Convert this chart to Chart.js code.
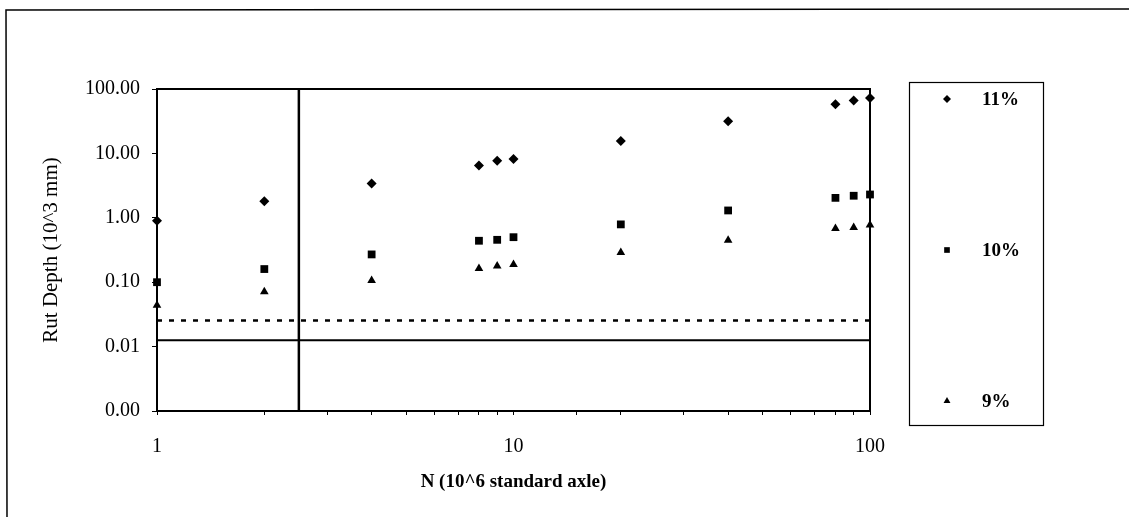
<!DOCTYPE html>
<html><head><meta charset="utf-8">
<script src="https://cdn.jsdelivr.net/npm/chart.js@4/dist/chart.umd.min.js"></script>
<style>html,body{margin:0;padding:0;background:#fff;}#wrap{width:1129px;height:517px;position:relative;}</style>
</head><body><div id="wrap"><canvas id="c" width="1129" height="517"></canvas></div>
<script>
// ---- data ----
const nValues = [1, 2, 4, 8, 9, 10, 20, 40, 80, 90, 100];
const rut11 = [0.9, 1.8, 3.4, 6.5, 7.7, 8.2, 15.6, 31.5, 58, 66.5, 72.5];
const rut10 = [0.10, 0.16, 0.27, 0.44, 0.455, 0.50, 0.79, 1.3, 2.04, 2.2, 2.3];
const rut9 = [0.044, 0.071, 0.106, 0.163, 0.178, 0.188, 0.29, 0.45, 0.68, 0.71, 0.77];
const seriesLabels = ['11%', '10%', '9%'];
const yTicks = [0.001, 0.01, 0.1, 1, 10, 100];
const xTickLabels = [1, 10, 100];
const xRange = [1, 100];
const yRange = [0.001, 100];
const dashedLimit = 0.0255;
const solidLimit = 0.0125;
const verticalN = 2.5;

const pts = ys => nValues.map((x, i) => ({x: x, y: ys[i]}));
const serif = 'Liberation Serif, Times New Roman, serif';
const styles = ['rectRot', 'rect', 'triangle'];
const radii = [5, 5.5, 5];

function drawMarker(ctx, style, x, y, r) {
  ctx.beginPath();
  if (style === 'rectRot') {
    ctx.moveTo(x - r, y); ctx.lineTo(x, y - r); ctx.lineTo(x + r, y); ctx.lineTo(x, y + r);
  } else if (style === 'rect') {
    const s = r * Math.SQRT1_2; ctx.rect(x - s, y - s, 2 * s, 2 * s);
  } else {
    const h = r * 0.866;
    ctx.moveTo(x, y - r); ctx.lineTo(x + h, y + r / 2); ctx.lineTo(x - h, y + r / 2);
  }
  ctx.closePath(); ctx.fill();
}

const framePlugin = {
  id: 'frame',
  beforeDatasetsDraw(chart) {
    const {ctx, chartArea: a} = chart;
    ctx.save();
    ctx.strokeStyle = '#000';
    ctx.lineWidth = 2;
    ctx.beginPath();
    ctx.moveTo(a.left, a.top); ctx.lineTo(a.right, a.top); ctx.lineTo(a.right, a.bottom);
    ctx.stroke();
    // outer page frame
    ctx.lineWidth = 1.5;
    ctx.beginPath();
    ctx.moveTo(7, 517); ctx.lineTo(6, 10); ctx.lineTo(1129, 9);
    ctx.stroke();
    ctx.restore();
  },
  afterDraw(chart) {
    const {ctx} = chart;
    ctx.save();
    ctx.strokeStyle = '#000';
    ctx.lineWidth = 1.2;
    ctx.strokeRect(909.5, 82.5, 134, 343);
    ctx.fillStyle = '#000';
    ctx.font = 'bold 19px ' + serif;
    ctx.textBaseline = 'middle';
    ctx.textAlign = 'left';
    const ys = [99, 250, 401];
    seriesLabels.forEach((lab, i) => {
      drawMarker(ctx, styles[i], 947, ys[i], 4);
      ctx.fillText(lab, 982, ys[i] + 1);
    });
    ctx.restore();
  }
};

const scatterSets = [rut11, rut10, rut9].map((arr, i) => ({
  label: seriesLabels[i],
  data: pts(arr),
  pointStyle: styles[i],
  pointRadius: radii[i],
  pointBackgroundColor: '#000',
  pointBorderColor: '#000',
  pointBorderWidth: 0,
  showLine: false,
  clip: false
}));

const lineSets = [
  {data: [{x: xRange[0], y: dashedLimit}, {x: xRange[1], y: dashedLimit}], borderDash: [5, 7], borderWidth: 2.5},
  {data: [{x: xRange[0], y: solidLimit}, {x: xRange[1], y: solidLimit}], borderWidth: 2},
  {data: [{x: verticalN, y: yRange[0]}, {x: verticalN, y: yRange[1]}], borderWidth: 2.5}
].map(d => Object.assign({label: '', showLine: true, pointRadius: 0, borderColor: '#000', fill: false, tension: 0}, d));

new Chart(document.getElementById('c'), {
  type: 'scatter',
  data: {datasets: scatterSets.concat(lineSets)},
  options: {
    responsive: false,
    animation: false,
    devicePixelRatio: 1,
    layout: {padding: {left: 0, right: 259, top: 89, bottom: 0}},
    plugins: {legend: {display: false}, tooltip: {enabled: false}},
    scales: {
      x: {
        type: 'logarithmic', min: xRange[0], max: xRange[1],
        afterFit(s) { s.height = 106; },
        ticks: {
          autoSkip: false, maxRotation: 0, padding: 20, color: '#000',
          font: {family: serif, size: 20},
          callback: v => xTickLabels.includes(Number(v)) ? String(v) : ''
        },
        grid: {drawOnChartArea: false, drawTicks: true, tickLength: 4, color: '#000', lineWidth: 1},
        border: {display: true, color: '#000', width: 2},
        title: {display: true, text: 'N (10^6 standard axle)', color: '#000',
          font: {family: serif, size: 19, weight: 'bold'}, padding: {top: 0, bottom: 24}}
      },
      y: {
        type: 'logarithmic', min: yRange[0], max: yRange[1],
        afterFit(s) { s.width = 157; },
        afterBuildTicks(s) { s.ticks = yTicks.map(v => ({value: v})); },
        ticks: {
          padding: 12, color: '#000', font: {family: serif, size: 20},
          callback: v => Number(v).toFixed(2)
        },
        grid: {drawOnChartArea: false, drawTicks: true, tickLength: 5, color: '#000', lineWidth: 1},
        border: {display: true, color: '#000', width: 2},
        title: {display: true, text: 'Rut Depth (10^3 mm)', color: '#000',
          font: {family: serif, size: 21}, padding: {top: 39, bottom: 0}}
      }
    }
  },
  plugins: [framePlugin]
});
</script></body></html>
